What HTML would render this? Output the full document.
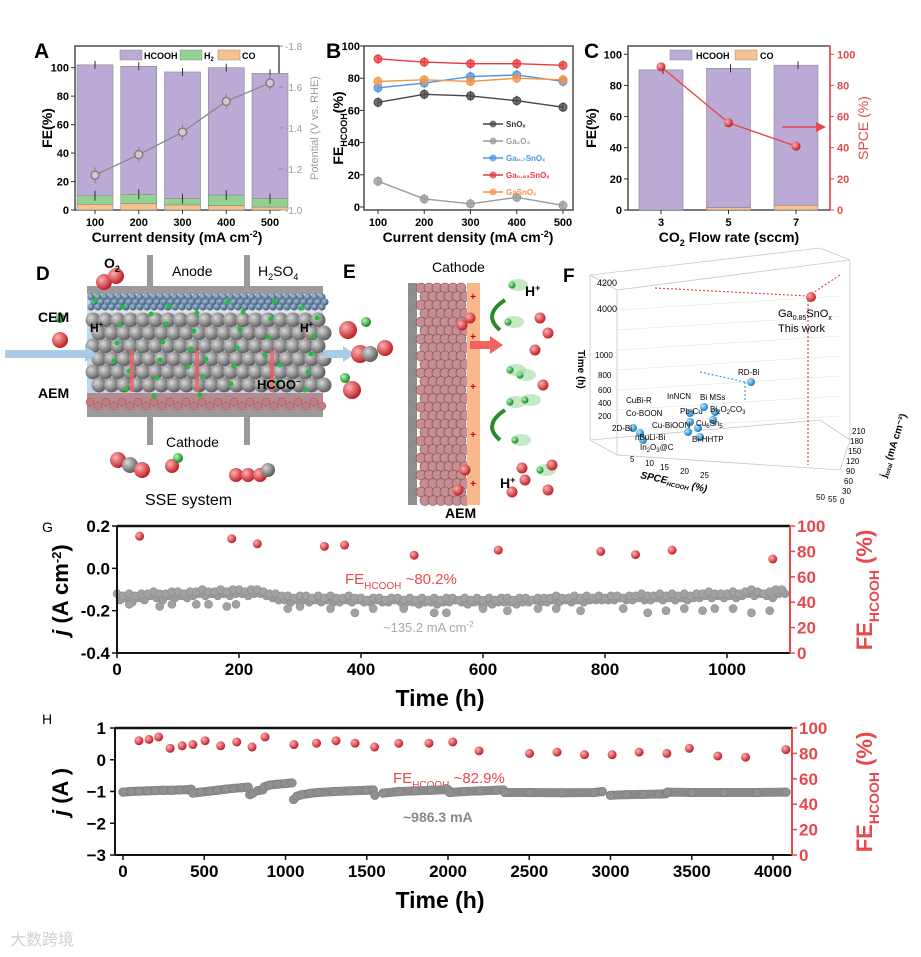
<!DOCTYPE html>
<html><head><meta charset="utf-8"><style>
html,body{margin:0;padding:0;background:#fff}
svg{display:block;font-family:"Liberation Sans","Noto Sans CJK SC",sans-serif}
.b{font-weight:bold}
</style></head><body>
<svg id="fig" width="921" height="957" viewBox="0 0 921 957" xmlns="http://www.w3.org/2000/svg">
<defs>
<radialGradient id="gsph" cx="35%" cy="35%" r="65%"><stop offset="0" stop-color="#d8d8d8"/><stop offset="1" stop-color="#5e5e5e"/></radialGradient>
<radialGradient id="bsph" cx="35%" cy="35%" r="65%"><stop offset="0" stop-color="#bfe3ff"/><stop offset="1" stop-color="#1b7fc0"/></radialGradient>
<radialGradient id="rsph" cx="35%" cy="35%" r="65%"><stop offset="0" stop-color="#ffb0b0"/><stop offset="1" stop-color="#c0202a"/></radialGradient>
<radialGradient id="gsph2" cx="35%" cy="35%" r="65%"><stop offset="0" stop-color="#b9f5b9"/><stop offset="1" stop-color="#0d8c25"/></radialGradient>
<radialGradient id="dsph" cx="35%" cy="35%" r="65%"><stop offset="0" stop-color="#aac0d8"/><stop offset="1" stop-color="#3d5a7a"/></radialGradient>
</defs>
<g id="illus"></g>

<g class="b">
<text x="34" y="58" font-size="21">A</text>
<text x="326" y="58" font-size="21">B</text>
<text x="584" y="58" font-size="21">C</text>
<text x="36" y="280" font-size="19">D</text>
<text x="343" y="278" font-size="19">E</text>
<text x="563" y="282" font-size="19">F</text>
</g>
<text x="42" y="532" font-size="14">G</text>
<text x="42" y="724" font-size="14">H</text>

<g class="b" font-size="14">
<text x="177" y="242" text-anchor="middle">Current density (mA cm<tspan dy="-5" font-size="9">-2</tspan><tspan dy="5">)</tspan></text>
<text x="468" y="242" text-anchor="middle">Current density (mA cm<tspan dy="-5" font-size="9">-2</tspan><tspan dy="5">)</tspan></text>
<text x="729" y="242" text-anchor="middle">CO<tspan dy="4" font-size="9">2</tspan><tspan dy="-4"> Flow rate (sccm)</tspan></text>
<text transform="translate(52,128) rotate(-90)" text-anchor="middle">FE(%)</text>
<text transform="translate(343,128) rotate(-90)" text-anchor="middle">FE<tspan dy="4" font-size="9">HCOOH</tspan><tspan dy="-4">(%)</tspan></text>
<text transform="translate(596,128) rotate(-90)" text-anchor="middle">FE(%)</text>
<text transform="translate(868,128) rotate(-90)" text-anchor="middle" fill="#e8474b" font-weight="normal">SPCE (%)</text>
</g>
<text transform="translate(318,128) rotate(-90)" text-anchor="middle" font-size="11" fill="#9a9a9a">Potential (V vs. RHE)</text>

<g font-size="14" class="b">
<text x="104" y="268">O<tspan dy="4" font-size="9">2</tspan></text>
<text x="172" y="276" font-weight="normal">Anode</text>
<text x="258" y="276" font-weight="normal">H<tspan dy="4" font-size="9">2</tspan><tspan dy="-4">SO</tspan><tspan dy="4" font-size="9">4</tspan></text>
<text x="38" y="322">CEM</text>
<text x="38" y="398">AEM</text>
<text x="90" y="332" font-size="12">H<tspan dy="-5" font-size="8">+</tspan></text>
<text x="300" y="332" font-size="12">H<tspan dy="-5" font-size="8">+</tspan></text>
<text x="257" y="389" font-size="13">HCOO<tspan dy="-5" font-size="8">−</tspan></text>
<text x="166" y="447" font-weight="normal">Cathode</text>
<text x="145" y="505" font-size="16" font-weight="normal">SSE system</text>
</g>
<g font-size="14">
<text x="432" y="272">Cathode</text>
<text x="525" y="296" class="b">H<tspan dy="-5" font-size="9">+</tspan></text>
<text x="500" y="488" class="b">H<tspan dy="-5" font-size="9">+</tspan></text>
<text x="445" y="518" class="b">AEM</text>
</g>
<g font-size="8">
<text x="597" y="286" font-size="9">4200</text>
<text x="597" y="312" font-size="9">4000</text>
<text x="595" y="358">1000</text><text x="598" y="378">800</text><text x="598" y="393">600</text><text x="598" y="406">400</text><text x="598" y="419">200</text>
<text x="778" y="317" font-size="11">Ga<tspan dy="3" font-size="7">0.85</tspan><tspan dy="-3">SnO</tspan><tspan dy="3" font-size="7">x</tspan></text>
<text x="778" y="332" font-size="11">This work</text>
<text x="738" y="375">RD-Bi</text>
<text x="626" y="403">CuBi-R</text><text x="667" y="399">InNCN</text><text x="700" y="400">Bi MSs</text>
<text x="626" y="416">Co-BOON</text><text x="680" y="414">Pb-Cu</text><text x="710" y="412">Bi<tspan font-size="6" dy="2">2</tspan><tspan dy="-2">O</tspan><tspan font-size="6" dy="2">2</tspan><tspan dy="-2">CO</tspan><tspan font-size="6" dy="2">3</tspan></text>
<text x="652" y="428">Cu-BiOON</text><text x="696" y="426">Cu<tspan font-size="6" dy="2">6</tspan><tspan dy="-2">Sn</tspan><tspan font-size="6" dy="2">5</tspan></text>
<text x="612" y="431">2D-Bi</text><text x="635" y="440">nBuLi-Bi</text><text x="692" y="442">Bi-HHTP</text>
<text x="640" y="450">In<tspan font-size="6" dy="2">2</tspan><tspan dy="-2">O</tspan><tspan font-size="6" dy="2">3</tspan><tspan dy="-2">@C</tspan></text>
<text transform="translate(578,350) rotate(90)" font-size="10" class="b">Time (h)</text>
<text transform="translate(640,478) rotate(12)" font-size="10" font-style="italic" class="b">SPCE<tspan font-size="6" dy="2">HCOOH</tspan><tspan dy="-2"> (%)</tspan></text>
<text transform="translate(886,478) rotate(-72)" font-size="10" class="b">j<tspan font-size="6" dy="2">total</tspan><tspan dy="-2"> (mA cm⁻²)</tspan></text>
<text x="852" y="434">210</text><text x="850" y="444">180</text><text x="848" y="454">150</text><text x="846" y="464">120</text><text x="846" y="474">90</text><text x="844" y="484">60</text><text x="842" y="494">30</text><text x="840" y="504">0</text>
<text x="630" y="462">5</text><text x="645" y="466">10</text><text x="660" y="470">15</text><text x="680" y="474">20</text><text x="700" y="478">25</text><text x="816" y="500">50</text><text x="828" y="502">55</text>
</g>

<g class="b">
<text transform="translate(68,590) rotate(-90)" text-anchor="middle" font-size="22"><tspan font-style="italic">j</tspan> (A cm<tspan dy="-7" font-size="13">-2</tspan><tspan dy="7">)</tspan></text>
<text transform="translate(872,590) rotate(-90)" text-anchor="middle" font-size="22" fill="#e8474b">FE<tspan dy="7" font-size="14">HCOOH</tspan><tspan dy="-7"> (%)</tspan></text>
<text x="440" y="706" text-anchor="middle" font-size="23">Time (h)</text>
<text x="345" y="584" font-size="15" fill="#e8474b" font-weight="normal">FE<tspan dy="5" font-size="10">HCOOH</tspan><tspan dy="-5"> ~80.2%</tspan></text>
<text x="383" y="632" font-size="13" fill="#a8a8a8" font-weight="normal">~135.2 mA cm<tspan dy="-5" font-size="8">-2</tspan></text>
<text transform="translate(68,792) rotate(-90)" text-anchor="middle" font-size="22"><tspan font-style="italic">j</tspan> (A )</text>
<text transform="translate(872,792) rotate(-90)" text-anchor="middle" font-size="22" fill="#e8474b">FE<tspan dy="7" font-size="14">HCOOH</tspan><tspan dy="-7"> (%)</tspan></text>
<text x="440" y="908" text-anchor="middle" font-size="23">Time (h)</text>
<text x="393" y="783" font-size="15" fill="#e8474b" font-weight="normal">FE<tspan dy="5" font-size="10">HCOOH</tspan><tspan dy="-5"> ~82.9%</tspan></text>
<text x="403" y="822" font-size="14" fill="#888">~986.3 mA</text>
</g>
<text x="10" y="945" font-size="16" fill="#d0d0d0">大数跨境</text>
</svg>
<script>
// ---------- data ----------
const catsA=[100,200,300,400,500];
const hcoohA=[102,101,97,100,96];
const h2A=[10,11,8,10.5,8];
const coA=[4,4.5,3.5,3,2];
const potA=[-1.17,-1.27,-1.38,-1.53,-1.62];
const catsB=[100,200,300,400,500];
const snox=[65,70,69,66,62];
const ga2o3=[16,5,2,6,1];
const ga07=[74,77,81,82,78];
const ga085=[92,90,89,89,88];
const gasnox=[78,79,78,80,79];
const catsC=[3,5,7];
const hcoohC=[90,91,93];
const coC=[0,1.5,3];
const spceC=[92,56,41];
const tGfe=[37,188,230,340,373,487,625,793,850,910,1075];
const feG=[92,90,86,84,85,77,81,80,77.5,81,74];
const jG=[-0.12,-0.13,-0.12,-0.13,-0.12,-0.12,-0.11,-0.12,-0.12,-0.11,
-0.11,-0.12,-0.11,-0.11,-0.10,-0.11,-0.11,-0.10,-0.11,-0.10,
-0.10,-0.11,-0.10,-0.10,-0.11,-0.12,-0.12,-0.13,-0.13,-0.14,
-0.13,-0.13,-0.14,-0.13,-0.14,-0.13,-0.14,-0.14,-0.13,-0.14,
-0.14,-0.15,-0.14,-0.14,-0.15,-0.14,-0.14,-0.15,-0.14,-0.15,
-0.14,-0.15,-0.14,-0.15,-0.14,-0.14,-0.15,-0.14,-0.15,-0.14,
-0.15,-0.14,-0.15,-0.14,-0.14,-0.15,-0.14,-0.14,-0.15,-0.14,
-0.14,-0.14,-0.13,-0.14,-0.14,-0.13,-0.14,-0.13,-0.14,-0.13,
-0.14,-0.13,-0.13,-0.14,-0.13,-0.13,-0.12,-0.13,-0.13,-0.12,
-0.13,-0.12,-0.13,-0.12,-0.13,-0.12,-0.12,-0.11,-0.12,-0.12,
-0.12,-0.11,-0.12,-0.11,-0.10,-0.11,-0.12,-0.11,-0.10,-0.10];
const jG2=[-0.15,-0.14,-0.16,-0.14,-0.15,-0.13,-0.14,-0.15,-0.13,-0.14,
-0.13,-0.14,-0.13,-0.12,-0.13,-0.12,-0.13,-0.12,-0.13,-0.12,
-0.12,-0.13,-0.12,-0.12,-0.13,-0.14,-0.15,-0.15,-0.16,-0.15,
-0.15,-0.16,-0.15,-0.16,-0.15,-0.16,-0.16,-0.15,-0.16,-0.15,
-0.16,-0.16,-0.15,-0.16,-0.16,-0.15,-0.16,-0.16,-0.16,-0.17,
-0.16,-0.16,-0.17,-0.16,-0.16,-0.15,-0.16,-0.17,-0.16,-0.16,
-0.16,-0.17,-0.16,-0.16,-0.16,-0.17,-0.16,-0.16,-0.15,-0.16,
-0.16,-0.15,-0.16,-0.15,-0.16,-0.15,-0.16,-0.15,-0.15,-0.15,
-0.15,-0.15,-0.14,-0.15,-0.15,-0.14,-0.15,-0.15,-0.14,-0.15,
-0.14,-0.15,-0.14,-0.15,-0.14,-0.14,-0.13,-0.14,-0.13,-0.14,
-0.13,-0.14,-0.13,-0.12,-0.13,-0.12,-0.13,-0.14,-0.12,-0.12];
const tGout=[20,70,90,130,150,180,195,280,300,350,390,420,470,520,540,600,640,690,720,760,830,870,900,930,960,980,1010,1040,1070];
const jGout=[-0.17,-0.18,-0.17,-0.17,-0.17,-0.18,-0.17,-0.19,-0.18,-0.19,-0.21,-0.19,-0.19,-0.21,-0.21,-0.19,-0.2,-0.19,-0.19,-0.2,-0.19,-0.21,-0.2,-0.19,-0.2,-0.19,-0.19,-0.21,-0.2];
const tHfe=[98,160,219,290,364,430,505,601,700,794,874,1052,1191,1311,1428,1548,1697,1883,2029,2191,2502,2671,2840,3010,3176,3347,3485,3660,3831,4079];
const feH=[90,91,93,84,86,87,90,86,89,85,93,87,88,90,88,85,88,88,89,82,80,81,79,79,81,80,84,78,77,83];
const tH=[0,50,100,150,200,250,300,350,400,420,430,480,530,580,630,680,730,770,780,800,830,860,870,900,950,1000,1040,1050,1070,1100,1150,1200,1300,1400,1500,1540,1550,1600,1700,1800,1900,2000,2010,2100,2200,2300,2340,2350,2500,2700,2900,2950,3000,3100,3200,3300,3340,3350,3500,3700,3900,4080];
const jH=[-1.02,-1.0,-0.99,-0.98,-0.97,-0.96,-0.96,-0.95,-0.94,-0.93,-1.05,-1.02,-0.99,-0.96,-0.93,-0.9,-0.88,-0.86,-1.1,-1.05,-0.97,-0.95,-0.85,-0.8,-0.77,-0.75,-0.73,-1.25,-1.15,-1.1,-1.06,-1.03,-1.0,-0.98,-0.96,-0.95,-1.12,-1.05,-1.0,-0.98,-0.96,-0.94,-1.03,-1.0,-0.98,-0.96,-0.95,-1.03,-1.03,-1.04,-1.03,-1.0,-1.12,-1.1,-1.09,-1.08,-1.07,-1.02,-1.03,-1.03,-1.03,-1.02];
const ticksA=[0,20,40,60,80,100];
const ticksApot=[-1.0,-1.2,-1.4,-1.6,-1.8];
const ticksG=[0.2,0.0,-0.2,-0.4];
const ticksGx=[0,200,400,600,800,1000];
const ticksH=[1,0,-1,-2,-3];
const ticksHx=[0,500,1000,1500,2000,2500,3000,3500,4000];
const ticksFE=[0,20,40,60,80,100];

// ---------- helpers ----------
const NS='http://www.w3.org/2000/svg';
const svg=document.getElementById('fig');
function mk(tag,attrs,parent){const e=document.createElementNS(NS,tag);for(const k in attrs)e.setAttribute(k,attrs[k]);(parent||svg).appendChild(e);return e;}
function txt(x,y,s,attrs,parent){const e=mk('text',Object.assign({x:x,y:y},attrs||{}),parent);e.textContent=s;return e;}
function lin(d0,d1,r0,r1){return v=>r0+(v-d0)/(d1-d0)*(r1-r0);}
function ln(x1,y1,x2,y2,st,w,p){return mk('line',{x1,y1,x2,y2,stroke:st,'stroke-width':w||1},p);}

// ================= Panel A =================
(function(){
const x=lin(100,500,95,270), y=lin(0,100,210,67.7), yp=lin(-1.0,-1.8,210,46);
const box=mk('rect',{x:75,y:46,width:204,height:164,fill:'none',stroke:'#333','stroke-width':1.3});


catsA.forEach((c,i)=>{
 const cx=x(c),w=36;
 let r=mk('rect',{x:cx-w/2,y:y(hcoohA[i]),width:w,height:y(h2A[i])-y(hcoohA[i]),fill:'#bcaad6',stroke:'#888','stroke-width':0.6});
 
 
 r=mk('rect',{x:cx-w/2,y:y(h2A[i]),width:w,height:y(coA[i])-y(h2A[i]),fill:'#92d394',stroke:'#888','stroke-width':0.6});
 
 
 r=mk('rect',{x:cx-w/2,y:y(coA[i]),width:w,height:y(0)-y(coA[i]),fill:'#f8c28f',stroke:'#888','stroke-width':0.6});
 
 
 ln(cx,y(hcoohA[i])-4,cx,y(hcoohA[i])+4,'#333',1);
 ln(cx,y(h2A[i])-5,cx,y(h2A[i])+5,'#333',1);
});
let pts=catsA.map((c,i)=>x(c)+','+yp(potA[i])).join(' ');
const pl=mk('polyline',{points:pts,fill:'none',stroke:'#888','stroke-width':1.3});


catsA.forEach((c,i)=>{
 ln(x(c),yp(potA[i])-8,x(c),yp(potA[i])+8,'#888',1);
 const m=mk('circle',{cx:x(c),cy:yp(potA[i]),r:4,fill:'#ccc',stroke:'#777','stroke-width':1.3});
 
 
});
ticksA.forEach(t=>{ln(71,y(t),75,y(t),'#333',1);const e=txt(69,y(t)+4,String(t),{'font-size':11,'text-anchor':'end',class:'b'});
 
 });
ticksApot.forEach(t=>{ln(279,yp(t),283,yp(t),'#888',1);const e=txt(285,yp(t)+4,t.toFixed(1),{'font-size':10,fill:'#999'});
 
 });
catsA.forEach(c=>{ln(x(c),210,x(c),214,'#333',1);const e=txt(x(c),226,String(c),{'font-size':11,'text-anchor':'middle',class:'b'});
 
 });
[['HCOOH','#bcaad6',120],['H','#92d394',180],['CO','#f8c28f',218]].forEach(l=>{
 const r=mk('rect',{x:l[2],y:50,width:22,height:10,fill:l[1],stroke:'#888','stroke-width':0.5});
 
 
});
txt(144,59,'HCOOH',{'font-size':9,class:'b'});
const h2=txt(204,59,'H',{'font-size':9,class:'b'});const s2=mk('tspan',{'font-size':6,dy:2},h2);s2.textContent='2';
txt(242,59,'CO',{'font-size':9,class:'b'});
})();

// ================= Panel B =================
(function(){
const x=lin(100,500,378,563), y=lin(0,100,207,46);
const box=mk('rect',{x:364,y:46,width:209,height:164,fill:'none',stroke:'#333','stroke-width':1.3});


const ser=[[snox,'#454545','SnOₓ'],[ga2o3,'#9a9a9a','Ga₂O₃'],[ga07,'#4b95e5','Ga₀.₇SnOₓ'],[ga085,'#ea3a3f','Ga₀.₈₅SnOₓ'],[gasnox,'#f39349','GaSnOₓ']];
ser.forEach((s,k)=>{
 const pl=mk('polyline',{points:catsB.map((c,i)=>x(c)+','+y(s[0][i])).join(' '),fill:'none',stroke:s[1],'stroke-width':1.4});
 
 
 catsB.forEach((c,i)=>{
  ln(x(c),y(s[0][i])-5,x(c),y(s[0][i])+5,s[1],1);
  const m=mk('circle',{cx:x(c),cy:y(s[0][i]),r:4,fill:s[1],stroke:s[1],'fill-opacity':0.75});
  
  
 });
 const ly=124+k*17;
 ln(483,ly,503,ly,s[1],1.4);
 const lc=mk('circle',{cx:493,cy:ly,r:3.5,fill:s[1],'fill-opacity':0.75});
 
 
 const lt=txt(506,ly+3,s[2],{'font-size':8,fill:k==0?'#333':s[1],class:'b'});
 
 
});
ticksA.forEach(t=>{ln(360,y(t),364,y(t),'#333',1);const e=txt(360,y(t)+4,String(t),{'font-size':11,'text-anchor':'end',class:'b'});
 
 });
catsB.forEach(c=>{ln(x(c),210,x(c),214,'#333',1);const e=txt(x(c),226,String(c),{'font-size':11,'text-anchor':'middle',class:'b'});
 
 });
})();

// ================= Panel C =================
(function(){
const x=lin(3,7,661,796), y=lin(0,100,210,54.3);
const box=mk('rect',{x:628,y:46,width:202,height:164,fill:'none',stroke:'#333','stroke-width':1.3});


ln(830,46,830,210,'#e8474b',1.5);
catsC.forEach((c,i)=>{
 const cx=x(c),w=44;
 let r=mk('rect',{x:cx-w/2,y:y(hcoohC[i]),width:w,height:y(coC[i])-y(hcoohC[i]),fill:'#bcaad6',stroke:'#888','stroke-width':0.6});
 
 
 r=mk('rect',{x:cx-w/2,y:y(coC[i]),width:w,height:y(0)-y(coC[i]),fill:'#f8c28f',stroke:'#888','stroke-width':0.6});
 
 
 ln(cx+2,y(hcoohC[i])-4,cx+2,y(hcoohC[i])+4,'#333',1);
});
const pl=mk('polyline',{points:catsC.map((c,i)=>x(c)+','+y(spceC[i])).join(' '),fill:'none',stroke:'#e8474b','stroke-width':1.4});


catsC.forEach((c,i)=>{const m=mk('circle',{cx:x(c),cy:y(spceC[i]),r:4.5,fill:'url(#rsph)'});
 
 });
ticksA.forEach(t=>{ln(624,y(t),628,y(t),'#333',1);let e=txt(622,y(t)+4,String(t),{'font-size':11,'text-anchor':'end',class:'b'});
 
 
 ln(830,y(t),834,y(t),'#e8474b',1);e=txt(837,y(t)+4,String(t),{'font-size':11,fill:'#e8474b',class:'b'});
 
 });
catsC.forEach(c=>{ln(x(c),210,x(c),214,'#333',1);const e=txt(x(c),226,String(c),{'font-size':11,'text-anchor':'middle',class:'b'});
 
 });
ln(782,127,820,127,'#e8474b',1.4);
mk('polygon',{points:'826,127 816,122 816,132',fill:'#e8474b'});
const s1=mk('rect',{x:670,y:50,width:22,height:10,fill:'#bcaad6',stroke:'#888','stroke-width':0.5});


txt(696,59,'HCOOH',{'font-size':9,class:'b'});
const s3=mk('rect',{x:735,y:50,width:22,height:10,fill:'#f8c28f',stroke:'#888','stroke-width':0.5});


txt(760,59,'CO',{'font-size':9,class:'b'});
})();

// ================= Panel G =================
(function(){
const x=lin(0,1000,117,727), y=lin(0.2,-0.4,526,653), yr=lin(0,100,653,526);
for(let i=0;i<jG.length;i++){
 const t=i*10;
 let m=mk('circle',{cx:x(t+5),cy:y(jG2[i]),r:4,fill:'#9c9c9c',stroke:'#8a8a8a','stroke-width':0.6});
 
 
 m=mk('circle',{cx:x(t),cy:y(jG[i]),r:4,fill:'#a2a2a2',stroke:'#8a8a8a','stroke-width':0.6});
 
 
}
tGout.forEach((t,i)=>{const m=mk('circle',{cx:x(t),cy:y(jGout[i]),r:4,fill:'#a2a2a2',stroke:'#8a8a8a','stroke-width':0.6});
 
 });
tGfe.forEach((t,i)=>{const m=mk('circle',{cx:x(t),cy:yr(feG[i]),r:4.5,fill:'url(#rsph)'});
 
 });
ln(117,526,790,526,'#111',2.5);ln(117,526,117,653,'#111',2);ln(117,653,790,653,'#111',2);ln(790,526,790,653,'#e8474b',2);
ticksG.forEach(t=>{ln(112,y(t),117,y(t),'#111',1.5);const e=txt(110,y(t)+6,t.toFixed(1),{'font-size':17,'text-anchor':'end',class:'b'});
 
 });
ticksFE.forEach(t=>{ln(790,yr(t),795,yr(t),'#e8474b',1.5);const e=txt(797,yr(t)+6,String(t),{'font-size':17,fill:'#e8474b',class:'b'});
 
 });
ticksGx.forEach(t=>{ln(x(t),653,x(t),658,'#111',1.5);const e=txt(x(t),675,String(t),{'font-size':17,'text-anchor':'middle',class:'b'});
 
 });
})();

// ================= Panel H =================
(function(){
const x=lin(0,4000,123,773), y=lin(1,-3,728,855), yr=lin(0,100,855,728);
let seg=[];
const segs=[];
for(let i=0;i<tH.length;i++){
 if(i>0&&Math.abs(jH[i]-jH[i-1])>0.07){segs.push(seg);seg=[];}
 seg.push(x(tH[i])+','+y(jH[i]));
}
segs.push(seg);
segs.forEach(s=>{const p=mk('polyline',{points:s.join(' '),fill:'none',stroke:'#8a8a8a','stroke-width':9,'stroke-linecap':'round','stroke-linejoin':'round'});
 
 });
tH.forEach((t,i)=>{const m=mk('circle',{cx:x(t),cy:y(jH[i]),r:4.3,fill:'#909090',stroke:'#7a7a7a','stroke-width':0.6});
 
 });
tHfe.forEach((t,i)=>{const m=mk('circle',{cx:x(t),cy:yr(feH[i]),r:4.5,fill:'url(#rsph)'});
 
 });
ln(115,728,792,728,'#111',2.5);ln(115,728,115,855,'#111',2);ln(115,855,792,855,'#111',2);ln(792,728,792,855,'#e8474b',2);
ticksH.forEach(t=>{ln(110,y(t),115,y(t),'#111',1.5);const e=txt(106,y(t)+6,t<0?'−'+Math.abs(t):String(t),{'font-size':17,'text-anchor':'end',class:'b'});
 
 });
ticksFE.forEach(t=>{ln(792,yr(t),797,yr(t),'#e8474b',1.5);const e=txt(799,yr(t)+6,String(t),{'font-size':17,fill:'#e8474b',class:'b'});
 
 });
ticksHx.forEach(t=>{ln(x(t),855,x(t),860,'#111',1.5);const e=txt(x(t),877,String(t),{'font-size':17,'text-anchor':'middle',class:'b'});
 
 });
})();

// ================= Illustrations D/E/F (decorative) =================
(function(){
const g=document.getElementById('illus');
mk('rect',{x:87,y:294,width:236,height:116,fill:'#bcd7ee'},g);
mk('rect',{x:87,y:286,width:236,height:8,fill:'#9a9a9a'},g);
mk('rect',{x:87,y:410,width:236,height:7,fill:'#9a9a9a'},g);
mk('rect',{x:87,y:310,width:236,height:3,fill:'#e0e0e0'},g);
mk('rect',{x:87,y:393,width:236,height:17,fill:'#b58a8e'},g);
for(let r=0;r<3;r++)for(let c=0;c<34;c++)mk('circle',{cx:91+c*7+(r%2)*3,cy:297+r*5,r:3.5,fill:'url(#dsph)'},g);
for(let r=0;r<6;r++)for(let c=0;c<19;c++)mk('circle',{cx:93+c*12.5+(r%2)*6,cy:320+r*13,r:7.5,fill:'url(#gsph)'},g);
for(let c=0;c<30;c++)mk('circle',{cx:90+c*8,cy:402+(c%2)*4,r:4,fill:'#c67b80',stroke:'#8a5a5e','stroke-width':0.5},g);
for(let k=0;k<40;k++)mk('circle',{cx:95+(k*37)%225,cy:300+(k*53)%100,r:2.5,fill:'#1ebf3a'},g);
[[150,255,288],[247,255,288],[150,417,445],[247,417,445]].forEach(p=>mk('rect',{x:p[0]-3,y:p[1],width:6,height:p[2]-p[1],fill:'#9a9a9a'},g));
mk('rect',{x:5,y:350,width:80,height:8,fill:'#a9cbe8'},g);
mk('polygon',{points:'85,346 97,354 85,362',fill:'#a9cbe8'},g);
mk('rect',{x:323,y:350,width:20,height:8,fill:'#a9cbe8'},g);
mk('polygon',{points:'343,346 355,354 343,362',fill:'#a9cbe8'},g);
[[130,350],[195,350],[270,350]].forEach(p=>mk('rect',{x:p[0],y:p[1],width:4,height:42,fill:'#f06060','fill-opacity':0.8},g));
[[104,282,'#rsph',8],[116,276,'#rsph',8],[60,318,'#gsph2',5],[60,340,'#rsph',8],[348,330,'#rsph',9],[366,322,'#gsph2',5],[360,354,'#rsph',9],[370,354,'#gsph',8],[385,348,'#rsph',8],[345,378,'#gsph2',5],[352,390,'#rsph',9],[118,460,'#rsph',8],[130,465,'#gsph',8],[142,470,'#rsph',8],[172,466,'#rsph',7],[178,458,'#gsph2',5],[236,475,'#rsph',7],[248,475,'#rsph',7],[260,475,'#rsph',7],[268,470,'#gsph',7]].forEach(p=>mk('circle',{cx:p[0],cy:p[1],r:p[3],fill:'url('+p[2]+')'},g));
mk('rect',{x:408,y:283,width:9,height:222,fill:'#8e8e8e'},g);
for(let r=0;r<26;r++)for(let c=0;c<6;c++)mk('circle',{cx:421+c*8+(r%2)*4,cy:288+r*8.5,r:5,fill:'#c78e93',stroke:'#7a4e52','stroke-width':0.6},g);
mk('rect',{x:467,y:283,width:13,height:222,fill:'#f7b98b'},g);
[300,340,390,438,487].forEach(yy=>txt(473,yy,'+',{'font-size':10,fill:'#c00','text-anchor':'middle',class:'b'},g));
mk('rect',{x:470,y:341,width:20,height:8,fill:'#f2625e'},g);
mk('polygon',{points:'490,336 503,345 490,354',fill:'#f2625e'},g);
mk('path',{d:'M505,300 Q482,315 500,330',fill:'none',stroke:'#2a8a2a','stroke-width':4},g);
mk('path',{d:'M505,410 Q482,425 500,440',fill:'none',stroke:'#2a8a2a','stroke-width':4},g);
[[512,285],[508,322],[520,375],[510,402],[515,440],[540,470],[510,370],[525,400]].forEach(p=>{mk('ellipse',{cx:p[0]+6,cy:p[1],rx:10,ry:6,fill:'#9ed99e','fill-opacity':0.6},g);mk('circle',{cx:p[0],cy:p[1],r:3.5,fill:'url(#gsph2)'},g);});
[[540,318],[548,333],[535,350],[543,385],[552,465],[522,468],[525,480],[548,490],[512,492],[470,318],[462,325],[465,470],[458,490]].forEach(p=>mk('circle',{cx:p[0],cy:p[1],r:5.5,fill:'url(#rsph)'},g));
const fl=[[617,290,617,455],[617,455,840,470],[617,455,590,440],[590,440,590,275],[590,275,617,290],[617,290,850,260],[840,470,850,440],[850,440,850,260],[590,275,820,248],[820,248,850,260],[590,440,820,420],[820,420,850,440]];
fl.forEach(l=>ln(l[0],l[1],l[2],l[3],'#c8c8c8',0.8,g));
for(let k=1;k<8;k++){ln(617,290+k*20,840,276+k*20,'#e2e2e2',0.6,g);}
ln(655,288,808,296,'#f04040',1.2,g).setAttribute('stroke-dasharray','2,2');
ln(808,296,840,275,'#f04040',1.2,g).setAttribute('stroke-dasharray','2,2');
ln(808,296,808,465,'#f04040',1.2,g).setAttribute('stroke-dasharray','2,2');
ln(700,372,745,382,'#3aa0e0',1.2,g).setAttribute('stroke-dasharray','2,2');
ln(745,382,745,400,'#3aa0e0',1.2,g).setAttribute('stroke-dasharray','2,2');
mk('circle',{cx:811,cy:297,r:5,fill:'url(#rsph)'},g);
[[751,382],[704,407],[690,413],[715,412],[713,420],[690,422],[698,428],[688,432],[700,437],[633,428],[640,433],[643,440]].forEach(p=>mk('circle',{cx:p[0],cy:p[1],r:4,fill:'url(#bsph)'},g));
})();
</script>
</body></html>
